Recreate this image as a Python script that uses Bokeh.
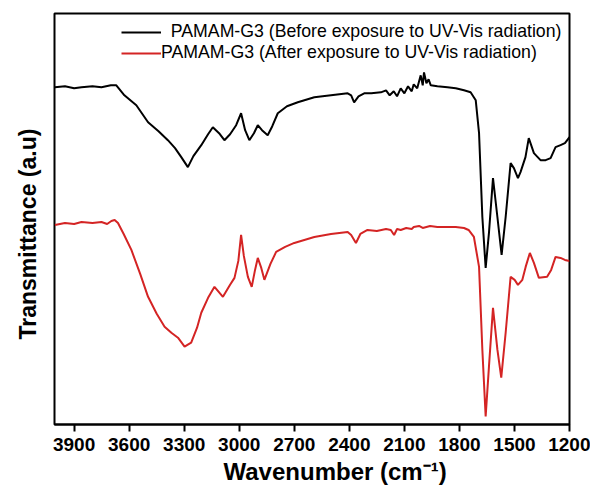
from bokeh.plotting import figure
from bokeh.models import Range1d, FixedTicker, Legend, LegendItem, Title
from bokeh.embed import file_html
from bokeh.resources import INLINE

# ---- data ----
wn_before = [4005, 3950, 3900, 3860, 3800, 3751, 3700, 3670, 3626, 3561, 3497, 3440, 3389, 3350,
             3316, 3280, 3250, 3207, 3170, 3144, 3110, 3081, 3050, 3017, 2990, 2968, 2945, 2920,
             2899, 2876, 2845, 2820, 2790, 2740, 2681, 2591, 2500, 2409, 2390, 2374, 2350, 2319,
             2280, 2228, 2200, 2180, 2158, 2140, 2120, 2100, 2080, 2060, 2049, 2030, 2011, 2000,
             1993, 1980, 1968, 1956, 1920, 1865, 1820, 1775, 1739, 1711, 1693, 1675, 1657, 1639,
             1617, 1593, 1570, 1548, 1521, 1503, 1481, 1467, 1440, 1422, 1394, 1358, 1330, 1303,
             1276, 1249, 1225, 1200]
t_before = [339, 340, 338, 339, 340, 339, 341, 341, 331, 321, 304, 295, 286, 278,
            269, 259, 270, 281, 292, 299, 293, 286, 292, 301, 313, 296, 286, 293,
            301, 296, 291, 300, 313, 320, 324, 329, 331, 333, 331, 324, 330, 333,
            333, 334, 336, 331, 335, 330, 338, 333, 340, 335, 342, 338, 351, 341,
            354, 343, 347, 341, 340, 339, 338, 336, 334, 326, 293, 209, 158, 193,
            248, 209, 171, 209, 263, 258, 248, 254, 269, 288, 273, 266, 266, 268,
            279, 281, 283, 289]

wn_after = [4005, 3950, 3900, 3860, 3800, 3751, 3720, 3697, 3679, 3661, 3630, 3588, 3540, 3497,
            3450, 3407, 3370, 3334, 3298, 3262, 3230, 3207, 3170, 3135, 3089, 3050, 3026, 3005,
            2990, 2975, 2953, 2932, 2915, 2899, 2880, 2863, 2830, 2799, 2750, 2700, 2591, 2500,
            2409, 2390, 2364, 2340, 2301, 2250, 2200, 2174, 2156, 2140, 2120, 2090, 2060, 2049,
            2020, 2000, 1960, 1920, 1865, 1820, 1775, 1750, 1721, 1693, 1675, 1657, 1639, 1617,
            1593, 1572, 1548, 1521, 1499, 1481, 1457, 1439, 1416, 1394, 1367, 1322, 1300, 1276,
            1249, 1225, 1200]
t_after = [201, 203, 202, 204, 203, 204, 202, 205, 206, 203, 192, 176, 152, 129,
           112, 99, 93, 88, 79, 83, 98, 113, 128, 139, 129, 141, 148, 165,
           191, 170, 149, 139, 155, 168, 158, 146, 162, 174, 179, 183, 189, 192,
           194, 191, 183, 192, 196, 195, 197, 196, 191, 197, 196, 198, 197, 199,
           200, 198, 200, 199, 199, 199, 198, 196, 189, 159, 76, 9, 59, 118,
           76, 48, 93, 149, 146, 141, 146, 159, 173, 163, 148, 149, 156, 169,
           168, 166, 165]

x_ticks = [3900, 3600, 3300, 3000, 2700, 2400, 2100, 1800, 1500, 1200]
label_before = "\u00a0\u00a0PAMAM-G3 (Before exposure to UV-Vis radiation)"
label_after = "PAMAM-G3 (After exposure to UV-Vis radiation)"
x_title = "Wavenumber (cm\u207b\u00b9)"
y_title = "Transmittance (a.u)"

FONT = "Liberation Sans"

p = figure(width=590, height=488, output_backend="svg", toolbar_location=None,
           x_range=Range1d(4007, 1200), y_range=Range1d(1, 413),
           min_border_left=53, min_border_right=21, min_border_top=13, min_border_bottom=63)
p.background_fill_color = "white"
p.border_fill_color = "white"
p.grid.visible = False
p.outline_line_color = "black"
p.outline_line_width = 2

r1 = p.line(wn_before, t_before, line_color="black", line_width=2)
r2 = p.line(wn_after, t_after, line_color="#d42424", line_width=2)

p.yaxis.visible = False

ax = p.xaxis[0]
ax.ticker = FixedTicker(ticks=x_ticks)
ax.axis_line_width = 2
ax.major_tick_line_width = 2
ax.major_tick_out = 7
ax.major_tick_in = 0
ax.minor_tick_line_color = None
ax.major_label_text_font = FONT
ax.major_label_text_font_style = "bold"
ax.major_label_text_font_size = "19px"
ax.major_label_text_color = "black"
ax.major_label_standoff = 6

xt = Title(text=x_title, align="left", offset=169, vertical_align="middle", standoff=6,
           text_font=FONT, text_font_style="bold", text_font_size="24px", text_color="black")
p.add_layout(xt, "below")

yt = Title(text=y_title, align="left", offset=85, vertical_align="middle", standoff=26,
           text_font=FONT, text_font_style="bold", text_font_size="23px", text_color="black")
p.add_layout(yt, "left")

legend = Legend(items=[LegendItem(label=label_before, renderers=[r1]),
                       LegendItem(label=label_after, renderers=[r2])],
                location=(67, 361), margin=0, padding=5, spacing=-3,
                glyph_width=40, glyph_height=20, label_height=20, label_standoff=0,
                label_text_font=FONT, label_text_font_size="17.7px", label_text_color="black",
                border_line_color=None, background_fill_alpha=0)
p.add_layout(legend)

open("out.html", "w").write(file_html(p, INLINE))
